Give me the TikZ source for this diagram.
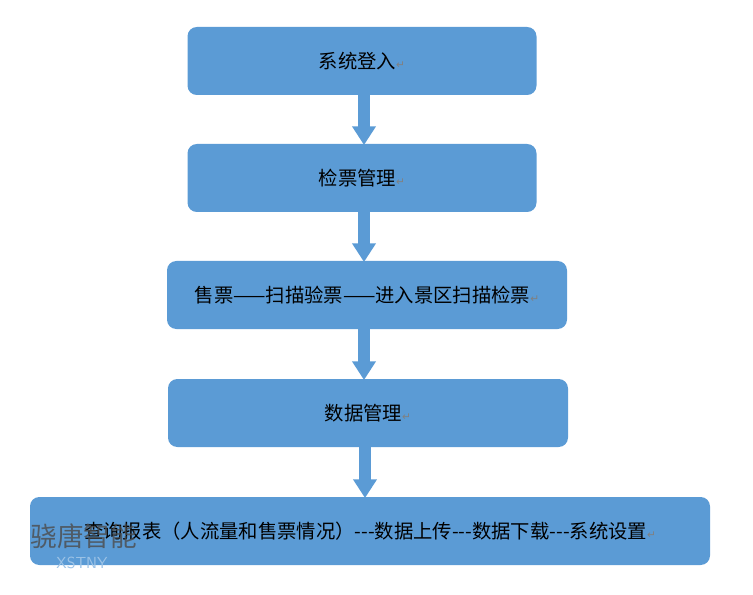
\documentclass[tikz,border=0pt]{standalone}
\usepackage{fontspec}
\setmainfont{Noto Sans CJK SC}
\newfontfamily\markfont{DejaVu Sans}
\usetikzlibrary{arrows.meta}
\definecolor{boxblue}{HTML}{5B9BD5}
\newcommand{\pmark}{{\markfont\color{gray}\fontsize{8}{8}\selectfont ↵}}
\begin{document}
\begin{tikzpicture}[x=0.75pt, y=-0.75pt,
  stepbox/.style={fill=boxblue, rounded corners=7pt, minimum height=68*0.75pt,
    font=\fontsize{14.5}{16}\selectfont, inner sep=0pt},
  flow/.style={draw=boxblue, line width=9pt, -{Triangle[length=14pt, width=17pt]}, shorten >=-1pt}]
\useasboundingbox (0,0) rectangle (753,595);
\node[stepbox, minimum width=349*0.75pt] (login) at (362,61) {系统登入\pmark};
\node[stepbox, minimum width=349*0.75pt] (check) at (362,178) {检票管理\pmark};
\node[stepbox, minimum width=400*0.75pt] (scan) at (367,295) {售票——扫描验票——进入景区扫描检票\pmark};
\node[stepbox, minimum width=400*0.75pt] (data) at (368,413) {数据管理\pmark};
\node[stepbox, minimum width=680*0.75pt] (report) at (370,531) {查询报表（人流量和售票情况）{-}{-}{-}数据上传{-}{-}{-}数据下载{-}{-}{-}系统设置\pmark};
% arrows
\draw[flow] (login.south -| 364,0) -- (check.north -| 364,0);
\draw[flow] (check.south -| 364,0) -- (scan.north -| 364,0);
\draw[flow] (scan.south -| 364,0) -- (data.north -| 364,0);
\draw[flow] (data.south -| 365,0) -- (report.north -| 365,0);
% watermark
\node[text=black!70, opacity=0.8, font=\fontsize{20}{22}\selectfont] (wm) at (84,536) {骁唐智能};
\node[text=boxblue!60!white, font=\fontsize{12}{12}\selectfont\sffamily] (wmsub) at (82,563) {XSTNY};
\end{tikzpicture}
\end{document}
